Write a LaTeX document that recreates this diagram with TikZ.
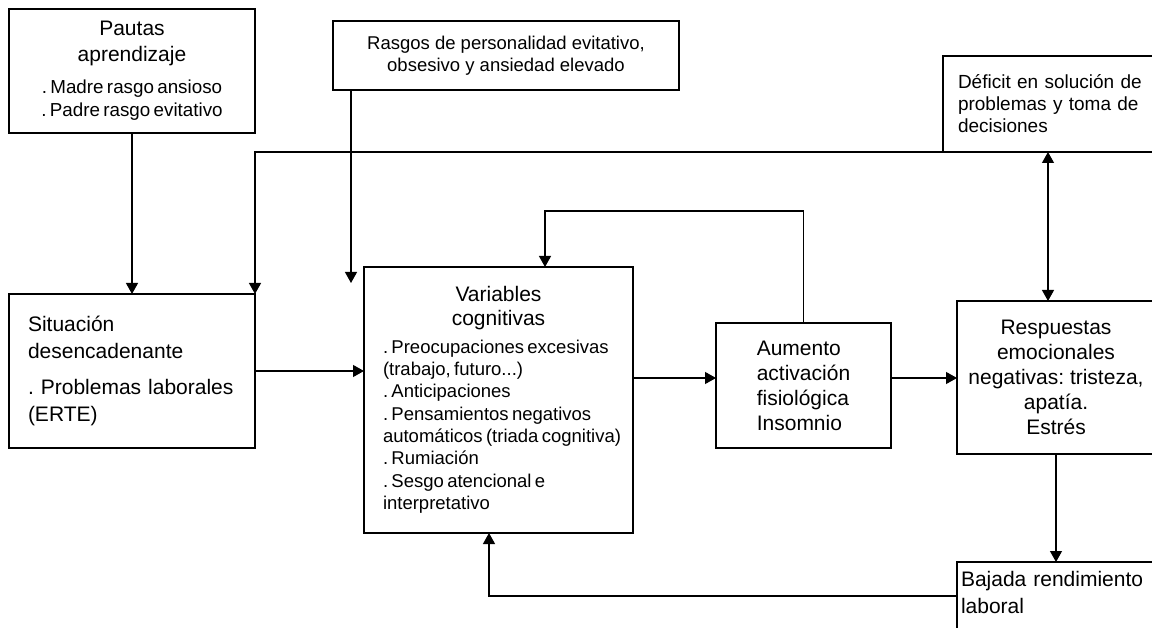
\documentclass[tikz,border=0pt]{standalone}
\usepackage{fontspec}
\setmainfont{Liberation Sans}
\usetikzlibrary{arrows.meta}
\setlength{\parindent}{0pt}
\frenchspacing

\newcommand{\titulo}{\fontsize{21}{24}\selectfont}
\newcommand{\texto}{\fontsize{18.5}{22}\selectfont}

\begin{document}
\begin{tikzpicture}[x=1pt, y=-1pt,
    caja/.style={draw, line width=1.2pt, anchor=north west,
        inner sep=0pt, outer sep=0pt},
    flecha/.style={line width=1.2pt,
        -{Triangle[length=11pt,width=12pt]}},
    ]
    \useasboundingbox (0,0) rectangle (1152,628);
    \clip (0,0) rectangle (1152,628);
    \node[caja, minimum width=246, minimum height=124,
        text width=230, align=center] (pautas) at (9,9)
        {{\fontsize{21}{26}\selectfont Pautas\\aprendizaje\par}\vspace{8pt}
         {\fontsize{18.8}{23.5}\selectfont . Madre rasgo ansioso\\. Padre rasgo evitativo\par}};
    \node[caja, minimum width=346, minimum height=69,
        align=center, font=\texto] (rasgos) at (333,21)
        {Rasgos de personalidad evitativo,\\obsesivo y ansiedad elevado};
    \node[caja, minimum width=215, minimum height=96,
        text width=185, align=left,
        font=\fontsize{19}{22}\selectfont] (deficit) at (943,56)
        {D\'eficit en soluci\'on de\\problemas y toma de\\decisiones};
    \node[caja, minimum width=246, minimum height=154,
        text width=208, align=left,
        font=\fontsize{21}{26.5}\selectfont] (situ) at (9,294)
        {Situaci\'on\\desencadenante\par\vspace{10pt}
         . Problemas laborales\\(ERTE)};
    \node[caja, minimum width=269, minimum height=266,
        text width=256, align=left] (vars) at (364,267)
        {{\centering\titulo Variables\\cognitivas\par}\vspace{5pt}
         {\raggedright\leftskip=12.5pt\fontsize{18.5}{22.3}\selectfont
         . Preocupaciones excesivas\\(trabajo, futuro...)\\
         . Anticipaciones\\. Pensamientos negativos\\
         autom\'aticos (triada cognitiva)\\. Rumiaci\'on\\
         . Sesgo atencional e\\interpretativo\par}};
    \node[caja, minimum width=175, minimum height=125,
        align=left, font=\fontsize{21}{25}\selectfont] (aum) at (716,323)
        {Aumento\\activaci\'on\\fisiol\'ogica\\Insomnio};
    \node[caja, minimum width=198, minimum height=153,
        align=center, font=\fontsize{21}{25}\selectfont] (resp) at (957,301)
        {Respuestas\\emocionales\\negativas: tristeza,\\apat\'ia.\\Estr\'es};
    \node[caja, minimum width=198, inner ysep=9.7pt, inner xsep=4pt,
        text width=190, text depth=70, align=left,
        font=\fontsize{21}{27}\selectfont] (bajada) at (957,562)
        {Bajada rendimiento\\laboral};

    \coordinate (rasgofin) at (351,283);
    \coordinate (nivel) at (0,378);
    \coordinate (bucle) at (545,211);
    \coordinate (doble) at (1048,0);
    \coordinate (retorno) at (489,596);

    \draw[flecha] (pautas.south) -- (situ.north);
    \draw[flecha] (deficit.south west) -| (situ.north east);
    \draw[flecha] (rasgos.south west -| rasgofin) -- (rasgofin);
    \draw[flecha] (situ.east) -- (situ.east -| vars.west);
    \draw[flecha] (vars.east |- nivel) -- (aum.west |- nivel);
    \draw[flecha] (aum.east |- nivel) -- (resp.west |- nivel);
    \draw[flecha] (aum.north) |- (bucle) -- (bucle |- vars.north);
    \draw[flecha, {Triangle[length=11pt,width=12pt]}-{Triangle[length=11pt,width=12pt]}]
        (deficit.south -| doble) -- (resp.north -| doble);
    \draw[flecha] (resp.south) -- (bajada.north);
    \draw[flecha] (bajada.west |- retorno) -| (vars.south -| retorno);
\end{tikzpicture}
\end{document}
